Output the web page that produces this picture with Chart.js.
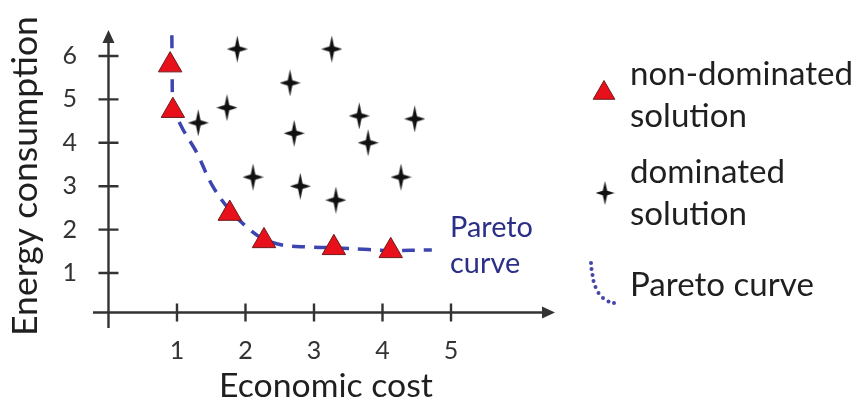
<!DOCTYPE html>
<html>
<head>
<meta charset="utf-8">
<title>Pareto curve</title>
<script src="https://cdn.jsdelivr.net/npm/chart.js@4.4.1/dist/chart.umd.min.js"></script>
<style>
  html, body { margin: 0; padding: 0; background: #fff; }
  #box { position: relative; width: 858px; height: 403px; overflow: hidden; }
  #chart { position: absolute; left: 0; top: 0; }
</style>
</head>
<body>
<div id="box">
  <canvas id="chart" width="858" height="403"></canvas>
</div>
<script>
// values
const xTicks = [1, 2, 3, 4, 5];
const yTicks = [1, 2, 3, 4, 5, 6];

const nonDomX = [0.90, 0.94, 1.77, 2.27, 3.29, 4.12];
const nonDomY = [5.79, 4.74, 2.37, 1.74, 1.58, 1.51];

const domX = [1.88, 1.31, 1.73, 2.65, 2.71, 3.26, 3.66, 3.79, 4.47, 2.11, 2.80, 3.32, 4.27];
const domY = [6.16, 4.46, 4.81, 5.38, 4.22, 6.16, 4.62, 4.00, 4.55, 3.21, 3.00, 2.68, 3.21];

const curveX = [0.925, 0.93, 0.95, 1.07, 1.29, 1.51, 1.77, 2.07, 2.27, 2.55, 2.90, 3.30, 3.80, 4.12, 4.72];
const curveY = [6.48, 5.80, 4.85, 4.36, 3.77, 3.03, 2.45, 1.99, 1.78, 1.64, 1.60, 1.58, 1.54, 1.52, 1.53];

const xTitle = 'Economic cost';
const yTitle = 'Energy consumption';
const legendLines = [['non-dominated', 'solution'], ['dominated', 'solution'], ['Pareto curve']];
const noteLines = ['Pareto', 'curve'];

// where the two axes cross
const crossX = 0;
const crossY = 0.09;

const FONT = 'Lato, "Open Sans", sans-serif';
const axisColor = '#333';
const textColor = '#1f1f1f';
const curveColor = '#3d45b0';

// font size that makes a text a given width
const meas = document.createElement('canvas').getContext('2d');
function fitSize(text, width) {
  meas.font = '100px ' + FONT;
  return 100 * width / meas.measureText(text).width;
}
const yTitleSize = fitSize(yTitle, 320);
const xTitleSize = fitSize(xTitle, 214);
const legendSize = fitSize('non-dominated', 223);
const noteSize = fitSize('Pareto', 83);

// the four pointed star used for dominated solutions
function makeStar(w, h, k, s, hw) {
  const c = document.createElement('canvas');
  c.width = w; c.height = h;
  const g = c.getContext('2d');
  const cx = w / 2, cy = h / 2;
  g.fillStyle = '#111';
  g.beginPath();
  g.moveTo(cx, 0);
  g.lineTo(cx + hw, cy - s);
  g.lineTo(cx + k, cy - k);
  g.lineTo(cx + s, cy - hw);
  g.lineTo(w, cy);
  g.lineTo(cx + s, cy + hw);
  g.lineTo(cx + k, cy + k);
  g.lineTo(cx + hw, cy + s);
  g.lineTo(cx, h);
  g.lineTo(cx - hw, cy + s);
  g.lineTo(cx - k, cy + k);
  g.lineTo(cx - s, cy + hw);
  g.lineTo(0, cy);
  g.lineTo(cx - s, cy - hw);
  g.lineTo(cx - k, cy - k);
  g.lineTo(cx - hw, cy - s);
  g.closePath();
  g.fill();
  return c;
}
const star = makeStar(21, 27, 2.4, 4.5, 1.9);
const starSmall = makeStar(19, 24, 2.2, 4, 1.8);

function pts(xs, ys) {
  return xs.map((v, i) => ({ x: v, y: ys[i] }));
}

const decor = {
  id: 'decor',
  beforeDatasetsDraw(chart) {
    const { ctx, scales: { x, y } } = chart;
    const x0 = x.getPixelForValue(crossX);
    const y0 = y.getPixelForValue(crossY);
    ctx.save();
    ctx.strokeStyle = axisColor;
    ctx.fillStyle = axisColor;
    ctx.lineWidth = 2.4;
    ctx.beginPath();
    ctx.moveTo(x.left, y0); ctx.lineTo(x.right - 8, y0);
    ctx.moveTo(x0, y.bottom); ctx.lineTo(x0, y.top + 8);
    xTicks.forEach(v => {
      const p = x.getPixelForValue(v);
      ctx.moveTo(p, y0 - 9); ctx.lineTo(p, y0 + 9);
    });
    yTicks.forEach(v => {
      const p = y.getPixelForValue(v);
      ctx.moveTo(x0 - 10, p); ctx.lineTo(x0 + 10, p);
    });
    ctx.stroke();
    ctx.beginPath();
    ctx.moveTo(x.right, y0); ctx.lineTo(x.right - 13, y0 - 6); ctx.lineTo(x.right - 13, y0 + 6); ctx.closePath();
    ctx.moveTo(x0, y.top); ctx.lineTo(x0 - 6, y.top + 13); ctx.lineTo(x0 + 6, y.top + 13); ctx.closePath();
    ctx.fill();
    ctx.restore();
  },
  afterDraw(chart) {
    const { ctx } = chart;
    ctx.save();
    ctx.fillStyle = textColor;
    ctx.textBaseline = 'alphabetic';

    // axis titles
    ctx.textAlign = 'center';
    ctx.font = xTitleSize + 'px ' + FONT;
    ctx.fillText(xTitle, 326, 397);
    ctx.save();
    ctx.translate(37, 176);
    ctx.rotate(-Math.PI / 2);
    ctx.font = yTitleSize + 'px ' + FONT;
    ctx.fillText(yTitle, 0, 0);
    ctx.restore();

    // note next to the curve
    ctx.textAlign = 'left';
    ctx.fillStyle = '#2b2f87';
    ctx.font = noteSize + 'px ' + FONT;
    ctx.fillText(noteLines[0], 450, 237);
    ctx.fillText(noteLines[1], 450, 273);

    // legend
    ctx.fillStyle = textColor;
    ctx.font = legendSize + 'px ' + FONT;
    const baselines = [[85, 127], [183, 225], [296]];
    legendLines.forEach((lines, i) => {
      lines.forEach((t, j) => ctx.fillText(t, 630, baselines[i][j]));
    });

    // legend symbols
    const r = 12.5, tx = 604, ty = 93;
    ctx.beginPath();
    ctx.moveTo(tx, ty - r);
    ctx.lineTo(tx + r * 0.866, ty + r / 2);
    ctx.lineTo(tx - r * 0.866, ty + r / 2);
    ctx.closePath();
    ctx.fillStyle = '#e8101b';
    ctx.fill();
    ctx.strokeStyle = '#6e1b1b';
    ctx.lineWidth = 1;
    ctx.stroke();

    ctx.drawImage(starSmall, 605 - starSmall.width / 2, 193 - starSmall.height / 2);

    ctx.fillStyle = '#4646a8';
    const dots = [[591, 263], [591.5, 269], [592.5, 275], [593.5, 281], [595.5, 287], [598.5, 293], [603, 298], [608.5, 301.5], [614, 303]];
    dots.forEach(([a, b]) => { ctx.beginPath(); ctx.arc(a, b, 2, 0, Math.PI * 2); ctx.fill(); });
    ctx.restore();
  }
};

const tickFont = { family: FONT, size: 25 };

new Chart(document.getElementById('chart'), {
  type: 'scatter',
  data: {
    datasets: [
      {
        label: 'non-dominated solution',
        data: pts(nonDomX, nonDomY),
        pointStyle: 'triangle',
        pointRadius: 13.5,
        pointHoverRadius: 13.5,
        backgroundColor: '#e8101b',
        borderColor: '#6e1b1b',
        borderWidth: 1,
        order: 1
      },
      {
        label: 'dominated solution',
        data: pts(domX, domY),
        pointStyle: star,
        order: 2
      },
      {
        label: 'Pareto curve',
        data: pts(curveX, curveY),
        showLine: true,
        pointRadius: 0,
        pointHoverRadius: 0,
        borderColor: curveColor,
        borderWidth: 3.5,
        borderDash: [13, 9],
        tension: 0.35,
        fill: false,
        order: 3
      }
    ]
  },
  options: {
    responsive: false,
    animation: false,
    layout: { padding: { left: 0, top: 30, right: 303, bottom: 0 } },
    plugins: { legend: { display: false }, tooltip: { enabled: false } },
    scales: {
      x: {
        type: 'linear',
        min: -0.226,
        max: 6.518,
        afterBuildTicks: s => { s.ticks = xTicks.map(v => ({ value: v })); },
        afterFit: s => { s.height = 75; },
        grid: { display: false },
        border: { display: false },
        ticks: { font: tickFont, color: '#333', padding: 0 }
      },
      y: {
        type: 'linear',
        min: -0.267,
        max: 6.599,
        afterBuildTicks: s => { s.ticks = yTicks.map(v => ({ value: v })); },
        afterFit: s => { s.width = 93; },
        grid: { display: false },
        border: { display: false },
        ticks: { font: tickFont, color: '#333', padding: 8 }
      }
    }
  },
  plugins: [decor]
});
</script>
</body>
</html>
